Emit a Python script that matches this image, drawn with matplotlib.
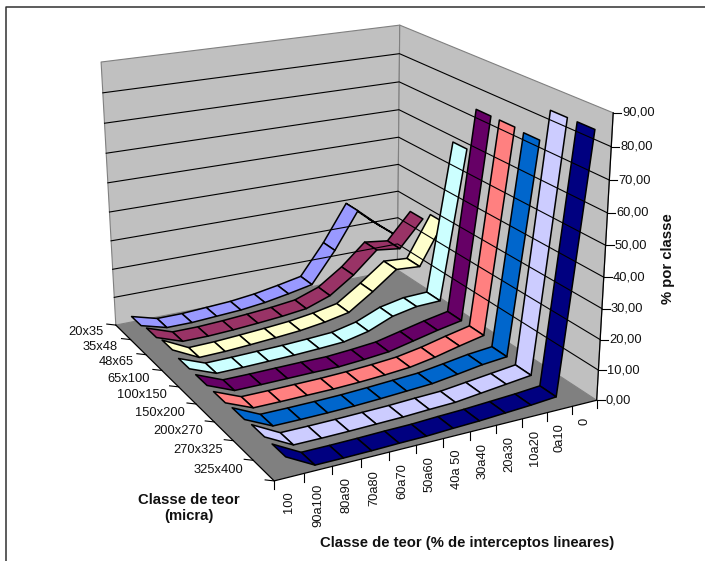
import numpy as np
import matplotlib
matplotlib.use('Agg')
import matplotlib.pyplot as plt
from matplotlib.patches import Polygon

plt.rcParams['font.family'] = ['Liberation Sans', 'DejaVu Sans']

# data
teor = ['100', '90a100', '80a90', '70a80', '60a70', '50a60', '40a 50', '30a40', '20a30', '10a20', '0a10', '0']
micra = ['20x35', '35x48', '48x65', '65x100', '100x150', '150x200', '200x270', '270x325', '325x400']
z_ticks = [0, 10, 20, 30, 40, 50, 60, 70, 80, 90]
colors = ['#9999FF', '#993366', '#FFFFCC', '#CCFFFF', '#660066', '#FF8080', '#0066CC', '#CCCCFF', '#000080']

s1 = [3.0, 0.5, 0.5, 1.0, 1.5, 2.5, 4.0, 5.7, 16.7, 29.7, 22.5, 16.0]
s2 = [4.0, 0.8, 0.8, 1.2, 1.8, 2.5, 3.5, 6.5, 12.3, 19.8, 18.7, 28.0]
s3 = [5.0, 0.5, 0.7, 1.2, 1.8, 2.5, 3.7, 5.4, 11.1, 17.4, 16.8, 31.1]
s4 = [4.0, 0.5, 0.6, 0.8, 1.0, 1.4, 1.9, 3.8, 7.3, 9.0, 9.3, 60.5]
s5 = [4.0, 0.3, 0.3, 0.4, 0.5, 0.5, 1.1, 1.9, 3.8, 5.7, 7.3, 75.0]
s6 = [4.0, 0.3, 0.3, 0.4, 0.5, 0.8, 1.3, 2.0, 3.5, 5.5, 7.3, 75.0]
s7 = [4.5, 0.3, 0.3, 0.4, 0.6, 1.0, 1.5, 2.0, 3.2, 4.5, 5.3, 74.5]
s8 = [5.0, 0.3, 0.3, 0.4, 0.6, 0.8, 1.2, 1.5, 2.5, 3.5, 4.5, 85.0]
s9 = [5.0, 0.2, 0.2, 0.3, 0.5, 0.6, 1.0, 1.3, 1.8, 2.3, 3.0, 85.0]
series = [s1, s2, s3, s4, s5, s6, s7, s8, s9]

# corners of the chart box on the page, (x, y, z) in 0-1 box units -> pixels
box_3d = [(0, 1, 0), (0, 0, 0), (1, 1, 0), (1, 0, 0), (0, 0, 1), (1, 0, 1), (1, 1, 1)]
box_px = [(274, 481), (116, 325), (597, 400), (397, 270), (101, 62), (400, 25), (613, 113)]


def fit_camera(pts3, pts2):
    rows = []
    for (x, y, z), (u, v) in zip(pts3, pts2):
        rows.append([x, y, z, 1, 0, 0, 0, 0, -u * x, -u * y, -u * z, -u])
        rows.append([0, 0, 0, 0, x, y, z, 1, -v * x, -v * y, -v * z, -v])
    return np.linalg.svd(np.array(rows))[2][-1].reshape(3, 4)


cam = fit_camera(box_3d, box_px)


def pr(x, y, z):
    h = cam @ np.array([x, y, z, 1.0])
    return h[0] / h[2], h[1] / h[2]


fig = plt.figure(figsize=(7.05, 5.61), dpi=100)
ax = fig.add_axes([0, 0, 1, 1])
ax.set_xlim(0, 705)
ax.set_ylim(561, 0)
ax.axis('off')

# chart frame, only top and left show in the picture
ax.plot([6, 6, 705], [561, 6.5, 6.5], color='#303030', lw=1.1)


def face(pts, fc, ec='#808080', lw=0.8):
    ax.add_patch(Polygon([pr(*p) for p in pts], closed=True, fc=fc, ec=ec, lw=lw, joinstyle='round'))


# walls and floor
face([(0, 0, 0), (1, 0, 0), (1, 0, 1), (0, 0, 1)], '#C0C0C0')
face([(1, 0, 0), (1, 1, 0), (1, 1, 1), (1, 0, 1)], '#C0C0C0')
face([(0, 0, 0), (1, 0, 0), (1, 1, 0), (0, 1, 0)], '#808080', ec='none')

for t in z_ticks[1:-1]:
    zz = t / 90
    ax.plot(*zip(pr(0, 0, zz), pr(1, 0, zz), pr(1, 1, zz)), color='black', lw=0.8)

# axis lines and ticks
ax.plot(*zip(pr(0, 0, 0), pr(0, 1, 0), pr(1, 1, 0), pr(1, 1, 1)), color='black', lw=0.9)
for t in z_ticks:
    u, v = pr(1, 1, t / 90)
    ax.plot([u, u + 8], [v, v], color='black', lw=0.8)
    ax.text(u + 9, v, '%d,00' % t, ha='left', va='center', fontsize=9.3, color='#111111')
for j in range(len(micra) + 1):
    u, v = pr(0, j / len(micra), 0)
    ax.plot([u - 9, u], [v - 1, v], color='black', lw=0.8)
for j, name in enumerate(micra):
    u, v = pr(0, (j + 0.5) / len(micra), 0)
    ax.text(u - 20, v, name, ha='right', va='center', fontsize=9.3, color='#111111')
for i in range(len(teor) + 1):
    u, v = pr(i / len(teor), 1, 0)
    ax.plot([u, u], [v, v + 8], color='black', lw=0.8)
for i, name in enumerate(teor):
    u, v = pr((i + 0.5) / len(teor), 1, 0)
    ax.text(u, v + 14, name, ha='center', va='top', rotation=90, fontsize=9.3, color='#111111')

# ribbons, back series first, far end of each ribbon first
for j, vals in enumerate(series):
    y0 = (j + 0.17) / len(micra)
    y1 = (j + 0.81) / len(micra)
    for i in range(len(teor) - 2, -1, -1):
        x0 = (i + 0.54) / len(teor)
        x1 = (i + 1.54) / len(teor)
        z0, z1 = vals[i] / 90, vals[i + 1] / 90
        face([(x0, y0, z0), (x1, y0, z1), (x1, y1, z1), (x0, y1, z0)], colors[j], ec='black', lw=1.1)

ax.text(189, 508, 'Classe de teor\n(micra)', ha='center', va='center', fontsize=10.7, fontweight='bold', color='#111111', linespacing=1.25)
ax.text(467, 543, 'Classe de teor (% de interceptos lineares)', ha='center', va='center', fontsize=10.7, fontweight='bold', color='#111111')
ax.text(668, 259, '% por classe', ha='center', va='center', rotation=90, fontsize=10.7, fontweight='bold', color='#111111')

fig.savefig('out.png', dpi=100)
